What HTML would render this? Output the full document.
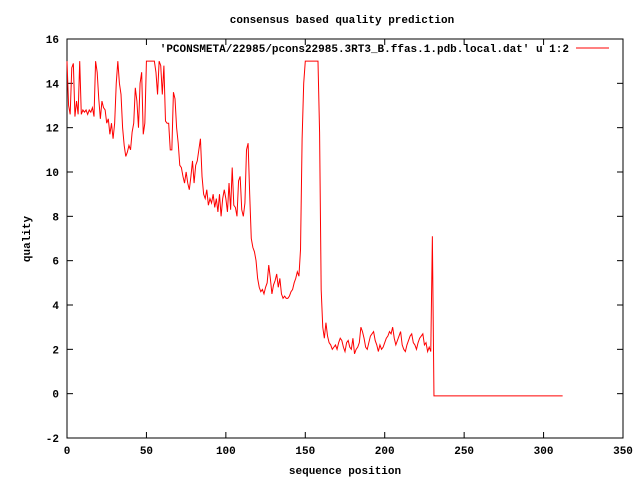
<!DOCTYPE html>
<html><head><meta charset="utf-8"><style>
body{margin:0;background:#fff}
svg{display:block;font-family:"Liberation Mono",monospace;font-size:11px;font-weight:bold}
</style></head><body>
<svg id="chart" width="640" height="480">
<rect x="0" y="0" width="640" height="480" fill="#fff"/>
<text x="342" y="23" text-anchor="middle">consensus based quality prediction</text>
<text x="345" y="474" text-anchor="middle">sequence position</text>
<text x="30" y="239" text-anchor="middle" transform="rotate(-90 30 239)">quality</text>
<g id="axes"></g>
<g id="series"></g>
<text x="569" y="52" text-anchor="end">'PCONSMETA/22985/pcons22985.3RT3_B.ffas.1.pdb.local.dat' u 1:2</text>
<line x1="576" y1="48" x2="609" y2="48" stroke="#f00" stroke-width="1"/>
</svg>
<script>
const xTicks=[0,50,100,150,200,250,300,350];
const yTicks=[-2,0,2,4,6,8,10,12,14,16];
const quality=[
15,13,12.6,14.7,14.9,12.5,13.2,12.6,15,12.6,12.8,12.7,12.8,12.6,12.8,12.7,12.9,12.5,15,14.5,
13.3,12.4,13.2,12.9,12.8,12.2,12.4,11.7,12.2,11.5,12.2,14,15,14,13.5,12,11.2,10.7,10.9,11.2,
11,11.8,12.2,13.8,13.2,12,14,14.5,11.7,12.2,15,15,15,15,15,15,14.5,13.5,15,14.8,
13.5,14.8,12.3,12.2,12.2,11,11,13.6,13.3,12,11.3,10.3,10.2,9.8,9.5,10,9.5,9.2,9.8,10.5,
9.5,10.3,10.5,11,11.5,9.8,9,8.8,9.2,8.5,8.8,8.6,9,8.4,8.8,8.2,9,8,8.8,9.2,
8.8,8.2,9.5,8.3,10.2,8.5,8.4,8,9.6,9.8,8.3,8,8.6,11,11.3,9,7,6.6,6.4,6,
5.2,4.8,4.6,4.7,4.5,4.8,5,5.8,5.2,4.5,4.9,5.1,5.4,4.8,5.2,4.5,4.3,4.4,4.3,4.3,
4.4,4.6,4.7,5,5.2,5.5,5.3,6.5,11.5,14,15,15,15,15,15,15,15,15,15,11.8,4.7,
3,2.5,3.2,2.6,2.3,2.2,2,2.1,2.2,2,
2.3,2.5,2.4,2.1,1.9,2.3,2.4,2.1,2,2.5,
1.8,2,2.1,2.3,3,2.8,2.5,2.1,2,2.3,
2.6,2.7,2.8,2.4,2.2,1.9,2.2,2,2.1,2.3,
2.5,2.6,2.8,2.7,3,2.5,2.2,2.4,2.6,2.8,
2.2,2,1.9,2.2,2.4,2.6,2.7,2.3,2.2,2,
2.3,2.5,2.6,2.7,2.2,2.3,1.9,2.1,1.9,
7.1];
const tailStart=231, tailEnd=312, tailValue=-0.1;

const L=67,R=623,T=39,B=438;
const X=v=>L+(v-0)/(350-0)*(R-L);
const Y=v=>B-(v-(-2))/(16-(-2))*(B-T);
const NS="http://www.w3.org/2000/svg";
const axes=document.getElementById('axes');
function mk(tag,attrs,parent){const e=document.createElementNS(NS,tag);for(const k in attrs)e.setAttribute(k,attrs[k]);parent.appendChild(e);return e;}
const frame=mk('rect',{x:L,y:T,width:R-L,height:B-T,fill:'none',stroke:'#000','stroke-width':1},axes);


xTicks.forEach(t=>{
  const x=X(t);
  const a=mk('line',{x1:x,y1:B,x2:x,y2:B-6,stroke:'#000'},axes);
  
  
  mk('line',{x1:x,y1:T,x2:x,y2:T+6,stroke:'#000'},axes);
  const tx=mk('text',{x:x,y:B+16,'text-anchor':'middle'},axes);
  tx.textContent=t;
  
  
});
yTicks.forEach(t=>{
  const y=Y(t);
  const a=mk('line',{x1:L,y1:y,x2:L+6,y2:y,stroke:'#000'},axes);
  
  
  mk('line',{x1:R,y1:y,x2:R-6,y2:y,stroke:'#000'},axes);
  const tx=mk('text',{x:L-8,y:y+4,'text-anchor':'end'},axes);
  tx.textContent=t;
  
  
});
const pts=quality.map((v,i)=>X(i).toFixed(2)+','+Y(v).toFixed(2));
for(let i=tailStart;i<=tailEnd;i++)pts.push(X(i).toFixed(2)+','+Y(tailValue).toFixed(2));
const line=mk('polyline',{points:pts.join(' '),fill:'none',stroke:'#f00','stroke-width':1},document.getElementById('series'));


</script>
</body></html>
